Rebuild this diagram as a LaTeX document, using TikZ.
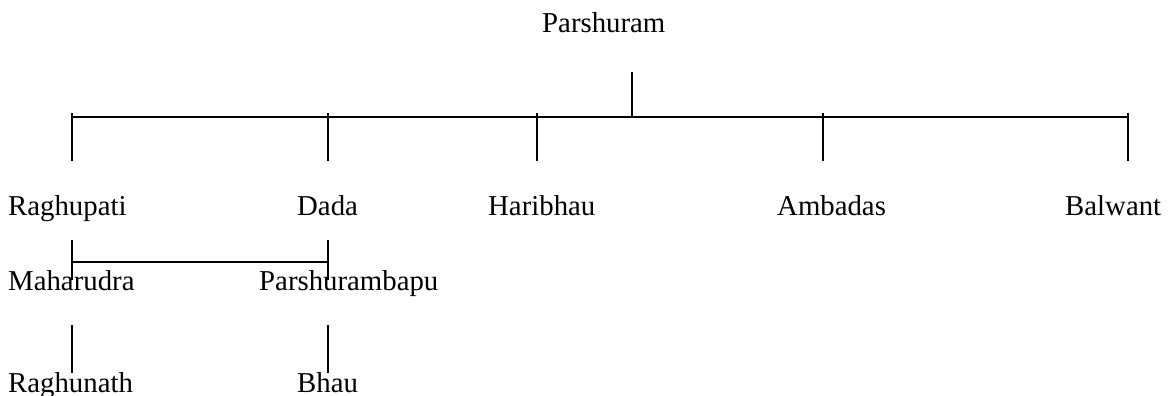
\documentclass[tikz,border=0pt]{standalone}
\usepackage{fontspec}
\setmainfont{Liberation Serif}
\begin{document}
\begin{tikzpicture}[x=1pt,y=-1pt,
  person/.style={anchor=base west,inner sep=0pt,font=\fontsize{28.8}{34}\selectfont},
  link/.style={line width=1.2pt,black}]
\useasboundingbox (0,0) rectangle (1168,396);
% names
\node[person] (parshuram) at (542,33) {Parshuram};
\node[person] (raghupati) at (8,215) {Raghupati};
\node[person] (dada) at (297,215) {Dada};
\node[person] (haribhau) at (488,215) {Haribhau};
\node[person] (ambadas) at (777,215) {Ambadas};
\node[person] (balwant) at (1065,215) {Balwant};
\node[person] (maharudra) at (8,290) {Maharudra};
\node[person] (parshurambapu) at (259,290) {Parshurambapu};
\node[person] (raghunath) at (8,392) {Raghunath};
\node[person] (bhau) at (297,392) {Bhau};
% connector points
\coordinate (p0) at (632,72);
\coordinate (p1) at (632,118);
\coordinate (hl) at (73,117);
\coordinate (hr) at (1129,117);
\coordinate (t1a) at (72,113); \coordinate (t1b) at (72,161);
\coordinate (t2a) at (328,113); \coordinate (t2b) at (328,161);
\coordinate (t3a) at (537,113); \coordinate (t3b) at (537,161);
\coordinate (t4a) at (823,113); \coordinate (t4b) at (823,161);
\coordinate (t5a) at (1128,113); \coordinate (t5b) at (1128,161);
\coordinate (m1a) at (72,240); \coordinate (m1b) at (72,280);
\coordinate (m2a) at (328,240); \coordinate (m2b) at (328,280);
\coordinate (ml) at (72,262); \coordinate (mr) at (328,262);
\coordinate (b1a) at (72,325); \coordinate (b1b) at (72,373);
\coordinate (b2a) at (328,325); \coordinate (b2b) at (328,373);
% lines
\draw[link] (p0) -- (p1);
\draw[link] (hl) -- (hr);
\draw[link] (t1a) -- (t1b);
\draw[link] (t2a) -- (t2b);
\draw[link] (t3a) -- (t3b);
\draw[link] (t4a) -- (t4b);
\draw[link] (t5a) -- (t5b);
\draw[link] (m1a) -- (m1b);
\draw[link] (m2a) -- (m2b);
\draw[link] (ml) -- (mr);
\draw[link] (b1a) -- (b1b);
\draw[link] (b2a) -- (b2b);
\end{tikzpicture}
\end{document}
